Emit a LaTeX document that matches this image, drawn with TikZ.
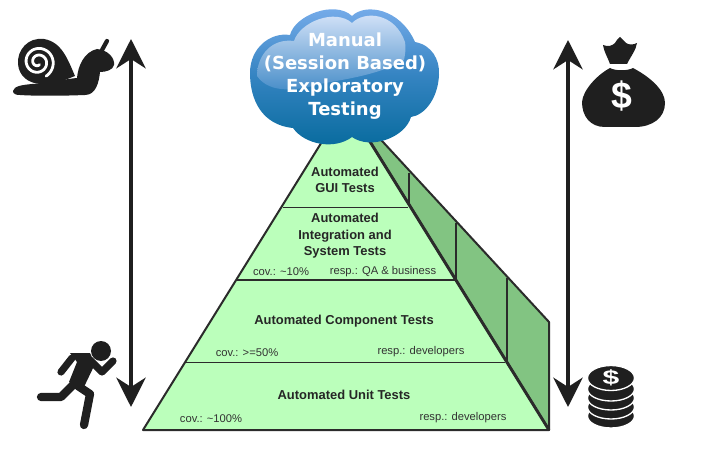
\documentclass[tikz,border=0pt]{standalone}
\usepackage{fontspec}
\setmainfont{Liberation Sans}
\newfontfamily\cloudfont{DejaVu Sans}
\usetikzlibrary{arrows.meta,calc}

\definecolor{frontgreen}{HTML}{BBFFBB}
\definecolor{sidegreen}{HTML}{82C482}
\definecolor{edgegray}{HTML}{2B2B2B}
\definecolor{icondark}{HTML}{1F1F1F}
\definecolor{cloudtop}{HTML}{7DB0EE}
\definecolor{cloudmid}{HTML}{3584C2}
\definecolor{cloudlow}{HTML}{066A9C}
\definecolor{glosstop}{HTML}{DDE8FB}
\definecolor{glosslow}{HTML}{4089C6}

\begin{document}
\begin{tikzpicture}[x=0.75pt, y=-0.75pt,
    updown/.style={{Stealth[length=22pt,width=22pt,inset=7pt]}-{Stealth[length=22pt,width=22pt,inset=7pt]}, line width=3pt, draw=icondark},
    title/.style={font=\fontsize{9.7}{12.4}\selectfont\bfseries, align=center, text=black!85},
    small/.style={font=\fontsize{8.4}{10}\selectfont, text=black!80},
    cloudtext/.style={font=\cloudfont\fontsize{13.5}{17.2}\selectfont\bfseries, align=center, text=white},
    edge/.style={draw=edgegray, line width=1.5pt, line join=round},
    limb/.style={draw=icondark, line width=6.2pt, line cap=round, line join=round}
]
\useasboundingbox (0,0) rectangle (718,449);

% Pyramid corners
\coordinate (apex) at (346,103);
\coordinate (baseleft) at (143,430);
\coordinate (baseright) at (549,430);
\coordinate (backtop) at (383,142);
\coordinate (backright) at (549,322);

% Side face
\draw[edge, fill=sidegreen] (apex) -- (backtop) -- (backright) -- (baseright) -- cycle;
\draw[edge, line width=1.2pt] (409,207) -- (409,173);
\draw[edge, line width=1.2pt] (456,280) -- (456,223);
\draw[edge, line width=1.2pt] (507,362) -- (507,278);

% Front face
\draw[edge, fill=frontgreen] (baseleft) -- (apex) -- (baseright) -- cycle;
\draw[edge, line width=2.2pt] (apex) -- (baseright);
\draw[edge, line width=1.2pt] (283,207.5) -- (408,207.5);
\draw[edge, line width=1.2pt] (236,280) -- (455,280);
\draw[edge, line width=1.2pt] (185,362.5) -- (505,362.5);

% Cloud
\path[top color=cloudtop, bottom color=cloudlow, middle color=cloudmid]
    (293,128) .. controls (262,125) and (250,100) .. (250,73)
    .. controls (250,48) and (270,32) .. (290,35)
    .. controls (295,15) and (335,0) .. (352,16)
    .. controls (365,3) and (400,8) .. (415,42)
    .. controls (432,45) and (440,60) .. (439,75)
    .. controls (438,98) and (425,115) .. (411,117)
    .. controls (405,138) and (370,150) .. (352,137)
    .. controls (335,150) and (305,145) .. (293,128) -- cycle;
\path[top color=glosstop, bottom color=glosslow]
    (257,76) .. controls (257,55) and (272,38) .. (294,41)
    .. controls (300,22) and (335,8) .. (352,23)
    .. controls (365,10) and (395,13) .. (405,42)
    .. controls (406,50) and (405,55) .. (404,60)
    .. controls (380,75) and (340,80) .. (320,84)
    .. controls (300,90) and (270,95) .. (257,76) -- cycle;

% Labels
\node[cloudtext] (manual) at (345,76.5) {Manual\\(Session Based)\\Exploratory\\Testing};
\node[title] (gui) at (345,180) {Automated\\GUI Tests};
\node[title] (integration) at (345,236) {Automated\\Integration and\\System Tests};
\node[title] (component) at (344,321) {Automated Component Tests};
\node[title] (unit) at (344,395) {Automated Unit Tests};
\node[small] (covten) at (281,272) {cov.: \textasciitilde10\%};
\node[small] (respqa) at (383,272) {resp.: QA \& business};
\node[small] (covfifty) at (247,353) {cov.: >=50\%};
\node[small] (respcomp) at (421,352) {resp.: developers};
\node[small] (covhundred) at (211,419) {cov.: \textasciitilde100\%};
\node[small] (respunit) at (463,418) {resp.: developers};

% Speed and cost arrows
\coordinate (speedtop) at (131,39);
\coordinate (speedlow) at (131,407);
\coordinate (costtop) at (568,40);
\coordinate (costlow) at (568,407);
\draw[updown] (speedtop) -- (speedlow);
\draw[updown] (costtop) -- (costlow);

% Snail
\fill[icondark] (75,76) .. controls (68,60) and (62,42) .. (44,39)
    .. controls (28,37) and (17,50) .. (18,64)
    .. controls (19,76) and (28,83) .. (40,84) -- (60,82) -- cycle;
\fill[icondark] (13,91) .. controls (14,86) and (22,85) .. (32,84)
    .. controls (50,83) and (65,79) .. (77,78)
    .. controls (78,66) and (84,52) .. (97,49)
    .. controls (108,50) and (115,58) .. (114,65)
    .. controls (113,70) and (106,72) .. (100,72)
    .. controls (99,82) and (96,95) .. (85,95)
    .. controls (60,96) and (35,96) .. (20,95)
    .. controls (16,95) and (13,94) .. (13,91) -- cycle;
\draw[icondark, line width=3.2pt, line cap=round] (102,50) -- (107,41);
\draw[white, line width=2.1pt, domain=0:720, samples=70, smooth, line cap=round]
    plot ({38+(3+\x*0.0185)*cos(\x+60)}, {62+(3+\x*0.0185)*sin(\x+60)});

% Runner
\fill[icondark] (101,351) circle (10);
\fill[icondark] (70,353) -- (90,353) -- (95,364) -- (83,389) -- (69,382) -- (77,362) -- cycle;
\draw[limb, line width=5.4pt] (72,358) -- (61,372);
\draw[limb, line width=5.4pt] (90,360) -- (102,372) -- (113,361);
\draw[limb] (74,384) -- (61,397) -- (41,397);
\draw[limb] (78,386) -- (90,394) -- (84,425);

% Money bag
\fill[icondark] (603,45) .. controls (608,47) and (612,46) .. (615,43)
    .. controls (617,40) and (618,38) .. (620,37)
    .. controls (622,38) and (623,41) .. (626,43)
    .. controls (629,45) and (633,45) .. (637,43)
    .. controls (636,50) and (631,56) .. (627,64)
    -- (610,64) .. controls (608,58) and (604,52) .. (603,45) -- cycle;
\fill[icondark] (610,68) .. controls (615,71) and (628,71) .. (633,68)
    .. controls (650,77) and (665,90) .. (665,103)
    .. controls (665,118) and (652,127) .. (635,127)
    -- (605,127) .. controls (590,127) and (582,116) .. (582,102)
    .. controls (583,90) and (597,75) .. (610,68) -- cycle;
\node[font=\fontsize{28}{28}\selectfont\bfseries, text=white, inner sep=0pt] (bagdollar) at (622,96) {\$};

% Coins
\foreach \cy in {416,407,398,389}
  \draw[fill=icondark, draw=white, line width=1pt] (611,\cy) ellipse (23.5 and 12);
\draw[fill=icondark, draw=white, line width=1pt] (611,378) ellipse (23.5 and 12.5);
\node[font=\fontsize{15}{15}\selectfont\bfseries, text=white, inner sep=0pt, xscale=1.5] (coindollar) at (611,378) {\$};

\end{tikzpicture}
\end{document}
